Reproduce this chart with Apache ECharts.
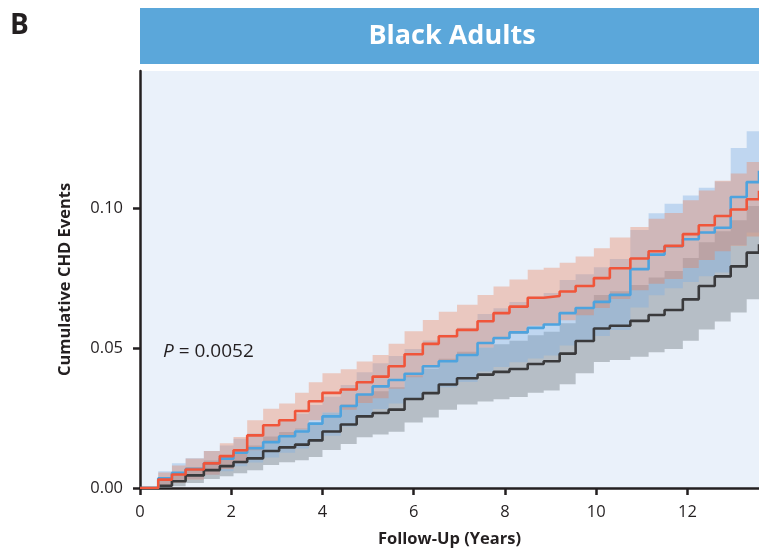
<!DOCTYPE html>
<html>
<head>
<meta charset="utf-8">
<script src="https://cdn.jsdelivr.net/npm/echarts@6/dist/echarts.min.js"></script>
<style>html,body{margin:0;padding:0;background:#fff;}#c{width:759px;height:552px;}</style>
</head>
<body>
<div id="c"></div>
<script>
const years = [0,0.4,0.7,1.0,1.4,1.75,2.05,2.35,2.7,3.05,3.4,3.7,4.0,4.4,4.75,5.1,5.45,5.8,6.2,6.55,6.95,7.4,7.75,8.1,8.5,8.85,9.2,9.55,9.95,10.3,10.75,11.15,11.5,11.9,12.25,12.6,12.95,13.3,13.57];

const redMean = [0,0.003,0.0048,0.0066,0.0088,0.0114,0.0135,0.0188,0.0224,0.0242,0.0275,0.031,0.034,0.0352,0.0378,0.0398,0.0435,0.0478,0.0515,0.0542,0.0565,0.0596,0.0625,0.0648,0.068,0.0686,0.0702,0.0722,0.075,0.0785,0.082,0.0846,0.0865,0.0907,0.0939,0.0972,0.0995,0.1032,0.1062];
const redHigh = [0,0.0055,0.008,0.0105,0.0132,0.016,0.0182,0.0242,0.0283,0.0302,0.034,0.0378,0.041,0.0424,0.0452,0.0475,0.0515,0.056,0.06,0.063,0.0655,0.069,0.072,0.0745,0.078,0.0787,0.0805,0.0827,0.0857,0.0895,0.0933,0.0962,0.0983,0.1028,0.1063,0.1098,0.1124,0.1165,0.1198];
const redLow = [0,0.001,0.002,0.003,0.0047,0.0068,0.0088,0.0135,0.0165,0.0182,0.021,0.0242,0.027,0.028,0.0304,0.0321,0.0355,0.0396,0.043,0.0454,0.0475,0.0502,0.053,0.0551,0.058,0.0585,0.0599,0.0617,0.0643,0.0675,0.0707,0.073,0.0747,0.0786,0.0815,0.0846,0.0866,0.0899,0.0926];

const blueMean = [0,0.0035,0.0054,0.0068,0.0088,0.0105,0.0126,0.0142,0.0164,0.0185,0.0202,0.023,0.0256,0.0293,0.0334,0.0363,0.0386,0.0408,0.0435,0.0453,0.0475,0.0518,0.0536,0.0556,0.0572,0.0584,0.0625,0.0643,0.0665,0.069,0.0782,0.0834,0.0864,0.0889,0.0913,0.093,0.104,0.1093,0.1134];
const blueHigh = [0,0.006,0.0088,0.0106,0.0132,0.0152,0.0176,0.0195,0.022,0.0245,0.0265,0.0297,0.0326,0.0368,0.0414,0.0446,0.0472,0.0497,0.0527,0.0548,0.0573,0.0622,0.0642,0.0665,0.0683,0.0697,0.0743,0.0764,0.0789,0.0818,0.0922,0.0982,0.1016,0.1045,0.1073,0.1095,0.1215,0.1275,0.131];
const blueLow = [0,0.0012,0.0022,0.0032,0.0047,0.006,0.0078,0.0091,0.0109,0.0126,0.0141,0.0165,0.0187,0.022,0.0256,0.0282,0.0302,0.0321,0.0345,0.036,0.0379,0.0416,0.0432,0.0449,0.0463,0.0473,0.0509,0.0524,0.0543,0.0565,0.0645,0.0689,0.0714,0.0736,0.0757,0.077,0.0868,0.0913,0.0955];

const blackMean = [0,0.0008,0.0024,0.0045,0.0064,0.0078,0.0093,0.0106,0.0132,0.0145,0.0155,0.017,0.0202,0.0227,0.0256,0.0268,0.028,0.0318,0.0339,0.037,0.0392,0.0405,0.0415,0.0425,0.0443,0.0453,0.048,0.0525,0.057,0.058,0.0597,0.0618,0.0636,0.0674,0.0722,0.0756,0.0792,0.0841,0.0871];
const blackHigh = [0,0.0025,0.0048,0.0075,0.0098,0.0116,0.0136,0.0152,0.0184,0.02,0.0213,0.0232,0.027,0.0298,0.0332,0.0346,0.036,0.0403,0.0427,0.0462,0.0487,0.0502,0.0514,0.0526,0.0546,0.0558,0.0589,0.064,0.069,0.0703,0.0725,0.0752,0.0775,0.0822,0.0878,0.0917,0.0957,0.1008,0.1035];
const blackLow = [0,0,0.0006,0.0018,0.0032,0.0042,0.0053,0.0063,0.0082,0.0092,0.0099,0.0111,0.0136,0.0157,0.0181,0.0191,0.0201,0.0234,0.0252,0.028,0.0298,0.0309,0.0317,0.0325,0.034,0.0348,0.0371,0.041,0.045,0.0457,0.0469,0.0485,0.0497,0.0526,0.0566,0.0595,0.0627,0.0674,0.0707];

const xTicks = [0,2,4,6,8,10,12];
const yTicks = [0,0.05,0.10];

const groups = [
  {key:'black', mean:blackMean, low:blackLow, high:blackHigh, line:'#3a3a3c', band:'rgba(110,118,126,0.42)'},
  {key:'blue', mean:blueMean, low:blueLow, high:blueHigh, line:'#4ea3de', band:'rgba(128,176,224,0.40)'},
  {key:'red', mean:redMean, low:redLow, high:redHigh, line:'#f0553a', band:'rgba(236,128,88,0.36)'}
];

function stepPolygon(api, low, high) {
  const pts = [];
  const n = years.length;
  for (let i = 0; i < n; i++) {
    pts.push(api.coord([years[i], high[i]]));
    if (i < n - 1) pts.push(api.coord([years[i + 1], high[i]]));
  }
  for (let i = n - 1; i >= 0; i--) {
    if (i < n - 1) pts.push(api.coord([years[i + 1], low[i]]));
    pts.push(api.coord([years[i], low[i]]));
  }
  return pts;
}

const series = [];
groups.forEach((g) => {
  series.push({
    type:'custom', silent:true, z:1,
    coordinateSystem:'cartesian2d',
    data:[[years[0], g.low[0]]],
    renderItem:(params, api) => ({
      type:'polygon',
      shape:{points: stepPolygon(api, g.low, g.high)},
      style:{fill:g.band}
    })
  });
});
groups.forEach((g, gi) => {
  series.push({
    type:'line', step:'end', symbol:'none', silent:true, z:5+gi,
    lineStyle:{color:g.line, width:2.6},
    data: years.map((t,i)=>[t, g.mean[i]])
  });
});

const chart = echarts.init(document.getElementById('c'), null, {renderer:'canvas'});
const FONT = '"Open Sans", "Noto Sans", sans-serif';
chart.setOption({
  animation:false,
  backgroundColor:'#ffffff',
  grid:{left:140, right:0, top:71, bottom:64, show:true, backgroundColor:'#eaf1fa', borderWidth:0, containLabel:false, outerBoundsMode:'none'},
  xAxis:{
    type:'value', min:0, max:13.57, interval:2,
    name:'Follow-Up (Years)', nameLocation:'middle', nameGap:43,
    nameTextStyle:{fontFamily:FONT, fontWeight:'bold', fontSize:16.5, color:'#231f20'},
    axisLine:{show:true, lineStyle:{color:'#231f20', width:2.5}},
    axisTick:{show:true, length:7, lineStyle:{color:'#231f20', width:2.5}, customValues:xTicks},
    axisLabel:{fontFamily:FONT, fontSize:16.5, color:'#231f20', margin:16, customValues:xTicks, formatter:v=>String(v)},
    splitLine:{show:false}
  },
  yAxis:{
    type:'value', min:0, max:0.149, interval:0.05,
    name:'Cumulative CHD Events', nameLocation:'middle', nameGap:66, nameRotate:90,
    nameTextStyle:{fontFamily:FONT, fontWeight:'bold', fontSize:16.5, color:'#231f20'},
    axisLine:{show:true, lineStyle:{color:'#231f20', width:2.5}},
    axisTick:{show:true, length:7, lineStyle:{color:'#231f20', width:2.5}, customValues:yTicks},
    axisLabel:{fontFamily:FONT, fontSize:16.5, color:'#231f20', margin:17, customValues:yTicks, formatter:v=>v.toFixed(2)},
    splitLine:{show:false}
  },
  graphic:[
    {type:'rect', left:140, top:8, shape:{width:619, height:56}, style:{fill:'#5ba7da'}, z:10},
    {type:'text', x:452, y:36, style:{text:'Black Adults', fill:'#ffffff', font:'bold 27px '+FONT, textAlign:'center', textVerticalAlign:'middle'}, z:11},
    {type:'text', x:10, y:26, style:{text:'B', fill:'#231f20', font:'bold 28px '+FONT, textAlign:'left', textVerticalAlign:'middle'}, z:11},
    {type:'text', x:163, y:352, style:{
      text:'{i|P} = 0.0052',
      textVerticalAlign:'middle',
      rich:{i:{fontStyle:'italic', fontSize:19, fontFamily:FONT, fill:'#231f20'}},
      font:'19px '+FONT, fill:'#231f20'
    }, z:11}
  ],
  series:series
});
</script>
</body>
</html>
